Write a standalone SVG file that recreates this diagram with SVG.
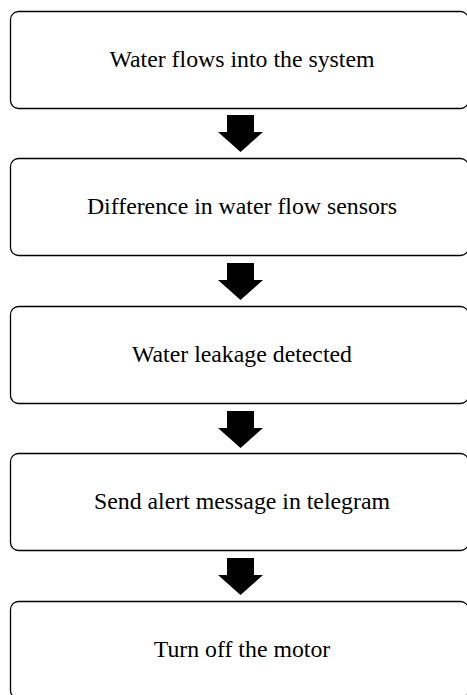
<svg xmlns="http://www.w3.org/2000/svg" width="467" height="695" viewBox="0 0 467 695">
<style>
.box{fill:#fff;stroke:#000;stroke-width:1.3}
.lbl{font-family:"Liberation Serif","Times New Roman",serif;font-size:23.8px;fill:#000;text-anchor:middle}
.arr{fill:#000}
</style>
<rect width="467" height="695" fill="#fff"/>
<g id="connectors">
<polygon class="arr" points="227,115 254,115 254,132 263,132 240.5,152 218,132 227,132"/>
<polygon class="arr" points="227,263 254,263 254,280 263,280 240.5,300 218,280 227,280"/>
<polygon class="arr" points="227,411 254,411 254,428 263,428 240.5,448 218,428 227,428"/>
<polygon class="arr" points="227,558 254,558 254,575 263,575 240.5,595 218,575 227,575"/>
</g>
<g id="n1"><rect class="box" x="10.5" y="11.5" width="458" height="97" rx="8"/><text class="lbl" x="242" y="66.5">Water flows into the system</text></g>
<g id="n2"><rect class="box" x="10.5" y="158.5" width="458" height="97" rx="8"/><text class="lbl" x="242" y="213.5">Difference in water flow sensors</text></g>
<g id="n3"><rect class="box" x="10.5" y="306.5" width="458" height="97" rx="8"/><text class="lbl" x="242" y="361.5">Water leakage detected</text></g>
<g id="n4"><rect class="box" x="10.5" y="453.5" width="458" height="97" rx="8"/><text class="lbl" x="242" y="508.5">Send alert message in telegram</text></g>
<g id="n5"><rect class="box" x="10.5" y="601.5" width="458" height="97" rx="8"/><text class="lbl" x="242" y="656.5">Turn off the motor</text></g>
</svg>
